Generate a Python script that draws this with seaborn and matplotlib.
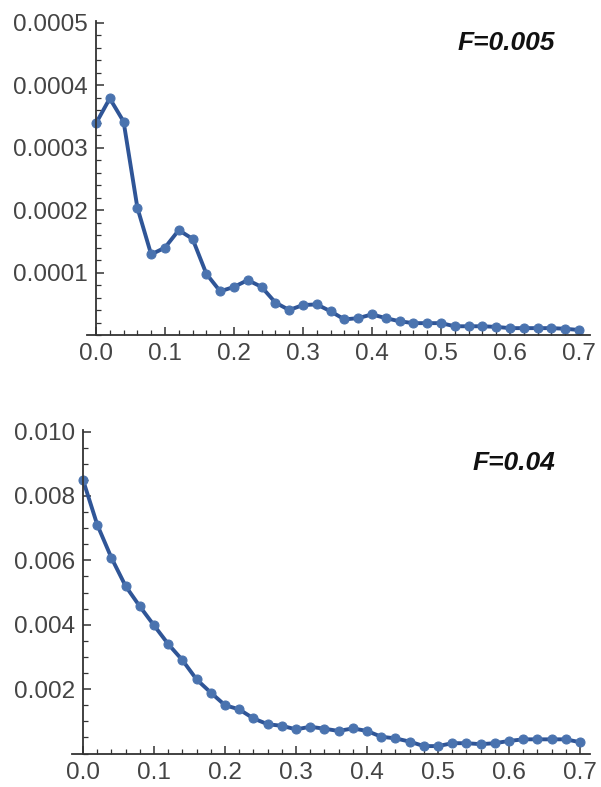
import numpy as np
import pandas as pd
import matplotlib
matplotlib.use("Agg")
import matplotlib.pyplot as plt
from matplotlib.ticker import MultipleLocator, FixedLocator
import seaborn as sns

# ---- data ----
x_vals = [round(0.02 * i, 2) for i in range(36)]

y_f005 = [0.000339, 0.000379, 0.000342, 0.000204, 0.000129, 0.000140, 0.000168, 0.000154,
          0.000098, 0.000070, 0.000077, 0.000088, 0.000077, 0.000052, 0.000040, 0.000048,
          0.000049, 0.000038, 0.000025, 0.000027, 0.000033, 0.000027, 0.000022, 0.000019,
          0.000019, 0.000019, 0.000014, 0.000014, 0.000014, 0.000013, 0.000011, 0.000011,
          0.000011, 0.000011, 0.000010, 0.000008]

y_f04 = [0.00850, 0.00711, 0.00608, 0.00520, 0.00457, 0.00398, 0.00340, 0.00290,
         0.00230, 0.00189, 0.00150, 0.00137, 0.00109, 0.00091, 0.00086, 0.00075,
         0.00083, 0.00077, 0.00070, 0.00078, 0.00070, 0.00052, 0.00047, 0.00037,
         0.00023, 0.00023, 0.00032, 0.00032, 0.00029, 0.00032, 0.00039, 0.00044,
         0.00044, 0.00044, 0.00044, 0.00035]

labels = ["F=0.005", "F=0.04"]
x_ticks = [0.0, 0.1, 0.2, 0.3, 0.4, 0.5, 0.6, 0.7]
y_ticks_top = [0.0001, 0.0002, 0.0003, 0.0004, 0.0005]
y_ticks_bot = [0.002, 0.004, 0.006, 0.008, 0.010]
y_ticklabels_top = ["0.0001", "0.0002", "0.0003", "0.0004", "0.0005"]
y_ticklabels_bot = ["0.002", "0.004", "0.006", "0.008", "0.010"]

sns.set_style("ticks")
plt.rcParams["font.family"] = ["Liberation Sans", "DejaVu Sans"]

W, H = 601, 787
fig = plt.figure(figsize=(W / 100, H / 100), dpi=100)

line_col = "#2F5597"
mark_col = "#4A73AF"
tick_col = "#444444"
axis_col = "#333333"


def style_axes(ax, xlim, ylim, yticks, yticklabels, yminor, label, label_xy):
    ax.set_xlim(*xlim)
    ax.set_ylim(*ylim)
    ax.spines["left"].set_position(("data", 0))
    ax.spines["top"].set_visible(False)
    ax.spines["right"].set_visible(False)
    for s in ("left", "bottom"):
        ax.spines[s].set_color(axis_col)
        ax.spines[s].set_linewidth(1.3)
    ax.xaxis.set_major_locator(FixedLocator(x_ticks))
    ax.set_xticklabels([f"{v:.1f}" for v in x_ticks])
    ax.xaxis.set_minor_locator(MultipleLocator(0.02))
    ax.yaxis.set_major_locator(FixedLocator(yticks))
    ax.set_yticklabels(yticklabels)
    ax.yaxis.set_minor_locator(MultipleLocator(yminor))
    ax.tick_params(axis="both", which="major", direction="in", length=6, width=1.1,
                   colors=axis_col, labelcolor=tick_col, labelsize=17.5, pad=6)
    ax.tick_params(axis="both", which="minor", direction="in", length=3.5, width=0.9,
                   colors=axis_col)
    ax.set_xlabel("")
    ax.set_ylabel("")
    ax.text(label_xy[0], label_xy[1], label, transform=ax.transAxes,
            fontsize=19, fontweight="bold", fontstyle="italic", color="#111111",
            ha="right", va="center")


# top panel
ax1 = fig.add_axes([87 / W, 1 - 335 / H, (590 - 87) / W, (335 - 21) / H])
df1 = pd.DataFrame({"x": x_vals, "y": y_f005})
sns.lineplot(data=df1, x="x", y="y", ax=ax1, color=line_col, linewidth=2.8,
             marker="o", markersize=6.5, markerfacecolor=mark_col,
             markeredgecolor=mark_col, clip_on=False)
style_axes(ax1, (-0.013, 0.716), (0, 0.000503), y_ticks_top, y_ticklabels_top,
           0.00002, labels[0], ((555 - 87) / (590 - 87), 1 - (43 - 21) / (335 - 21)))

# bottom panel
ax2 = fig.add_axes([72 / W, 1 - 753.5 / H, (590 - 72) / W, (753.5 - 430) / H])
df2 = pd.DataFrame({"x": x_vals, "y": y_f04})
sns.lineplot(data=df2, x="x", y="y", ax=ax2, color=line_col, linewidth=2.8,
             marker="o", markersize=6.5, markerfacecolor=mark_col,
             markeredgecolor=mark_col, clip_on=False)
style_axes(ax2, (-0.0155, 0.714), (0, 0.01005), y_ticks_bot, y_ticklabels_bot,
           0.0005, labels[1], ((555 - 72) / (590 - 72), 1 - (463 - 430) / (753.5 - 430)))

fig.savefig("out.png", dpi=100)
